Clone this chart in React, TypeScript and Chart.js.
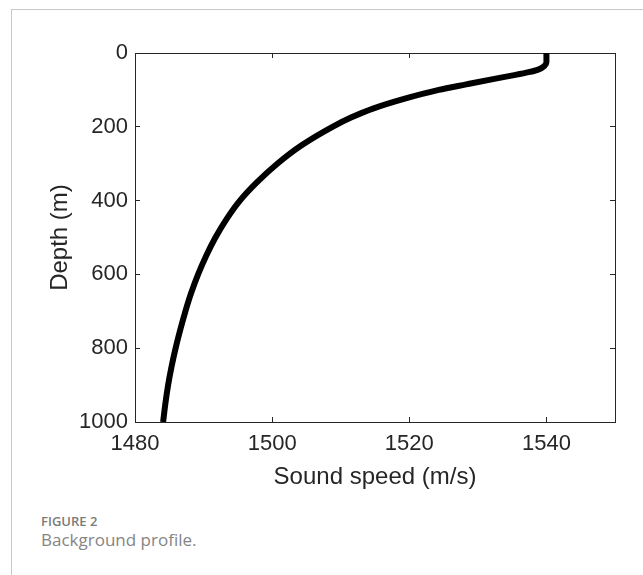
import React, { useEffect, useRef } from "react";
import { Chart, registerables } from "chart.js";

Chart.register(...registerables);

// Sound-speed profile
const depths = [0, 25, 35, 45, 52, 60, 70, 85, 100, 125, 150, 175, 200, 250, 300, 350, 400, 450, 500, 550, 600, 650, 700, 750, 800, 850, 900, 950, 1000];
const speeds = [1540.0, 1540.0, 1539.7, 1538.8, 1537.4, 1535.3, 1532.4, 1528.3, 1524.3, 1519.1, 1514.8, 1511.5, 1508.8, 1504.3, 1500.75, 1497.8, 1495.3, 1493.35, 1491.73, 1490.37, 1489.2, 1488.2, 1487.35, 1486.6, 1485.92, 1485.33, 1484.83, 1484.43, 1484.1];

const xTicks = [1480, 1500, 1520, 1540];
const yTicks = [0, 200, 400, 600, 800, 1000];
const xMin = 1480;
const xMax = 1550;
const yMin = 0;
const yMax = 1000;

const FONT = '"Liberation Sans", Arial, Helvetica, sans-serif';
const AXIS_COLOR = "#262626";
const TEXT_COLOR = "#262626";

export default function App() {
  const canvasRef = useRef<HTMLCanvasElement | null>(null);

  useEffect(() => {
    const canvas = canvasRef.current;
    if (!canvas) return;

    const gridOpts = {
      drawOnChartArea: false,
      drawTicks: true,
      tickLength: -5,
      tickColor: AXIS_COLOR,
      tickWidth: 1,
    };
    const borderOpts = { display: true, color: AXIS_COLOR, width: 1 };
    const setX = (s: any) => {
      s.ticks = xTicks.map((v) => ({ value: v }));
    };
    const setY = (s: any) => {
      s.ticks = yTicks.map((v) => ({ value: v }));
    };
    const plain = (v: any) => String(v);

    const chart = new Chart(canvas, {
      type: "scatter",
      data: {
        datasets: [
          {
            data: depths.map((d, i) => ({ x: speeds[i], y: d })),
            showLine: true,
            borderColor: "#000000",
            backgroundColor: "#000000",
            borderWidth: 6,
            pointRadius: 0,
            cubicInterpolationMode: "monotone",
            indexAxis: "y",
            fill: false,
          } as any,
        ],
      },
      options: {
        animation: false,
        responsive: false,
        maintainAspectRatio: false,
        indexAxis: "y",
        layout: { padding: { top: 53, right: 28, left: 0, bottom: 0 } },
        plugins: {
          legend: { display: false },
          tooltip: { enabled: false },
        },
        scales: {
          x: {
            type: "linear",
            position: "bottom",
            min: xMin,
            max: xMax,
            afterBuildTicks: setX,
            afterFit: (s: any) => {
              s.height = 78;
            },
            grid: gridOpts,
            border: borderOpts,
            ticks: {
              padding: 14,
              color: TEXT_COLOR,
              font: { family: FONT, size: 22 },
              maxRotation: 0,
              autoSkip: false,
              callback: plain,
            },
            title: {
              display: true,
              text: "Sound speed (m/s)",
              color: TEXT_COLOR,
              font: { family: FONT, size: 24 },
              padding: { top: 0, bottom: 8 },
            },
          },
          x2: {
            type: "linear",
            position: "top",
            min: xMin,
            max: xMax,
            afterBuildTicks: setX,
            afterFit: (s: any) => {
              s.height = 0;
            },
            grid: gridOpts,
            border: borderOpts,
            ticks: { display: false },
          },
          y: {
            type: "linear",
            position: "left",
            reverse: true,
            min: yMin,
            max: yMax,
            afterBuildTicks: setY,
            afterFit: (s: any) => {
              s.width = 135;
            },
            grid: gridOpts,
            border: borderOpts,
            ticks: {
              padding: 12,
              color: TEXT_COLOR,
              font: { family: FONT, size: 22 },
              autoSkip: false,
              callback: plain,
            },
            title: {
              display: true,
              text: "Depth (m)",
              color: TEXT_COLOR,
              font: { family: FONT, size: 24 },
              padding: { top: 46, bottom: 0 },
            },
          },
          y2: {
            type: "linear",
            position: "right",
            reverse: true,
            min: yMin,
            max: yMax,
            afterBuildTicks: setY,
            afterFit: (s: any) => {
              s.width = 0;
            },
            grid: gridOpts,
            border: borderOpts,
            ticks: { display: false },
          },
        },
      } as any,
    });

    return () => {
      chart.destroy();
    };
  }, []);

  return (
    <div
      style={{
        position: "absolute",
        left: 0,
        top: 0,
        width: 643,
        height: 575,
        overflow: "hidden",
        background: "#ffffff",
      }}
    >
      <div
        style={{
          position: "absolute",
          left: 11,
          top: 9,
          width: 640,
          height: 570,
          borderTop: "1px solid #c8c8c8",
          borderLeft: "1px solid #c8c8c8",
        }}
      />
      <canvas
        ref={canvasRef}
        width={643}
        height={500}
        style={{ position: "absolute", left: 0, top: 0, width: 643, height: 500, display: "block" }}
      />
      <div
        style={{
          position: "absolute",
          left: 41,
          top: 513,
          fontFamily: '"Open Sans", "Noto Sans", sans-serif',
          fontWeight: 600,
          fontSize: 13,
          lineHeight: "17.7px",
          color: "#7a7a7a",
          whiteSpace: "nowrap",
        }}
      >
        FIGURE 2
      </div>
      <div
        style={{
          position: "absolute",
          left: 41,
          top: 528,
          fontFamily: '"Open Sans", "Noto Sans", sans-serif',
          fontWeight: 400,
          fontSize: 17,
          lineHeight: "23.2px",
          color: "#858585",
          whiteSpace: "nowrap",
        }}
      >
        Background profile.
      </div>
    </div>
  );
}
